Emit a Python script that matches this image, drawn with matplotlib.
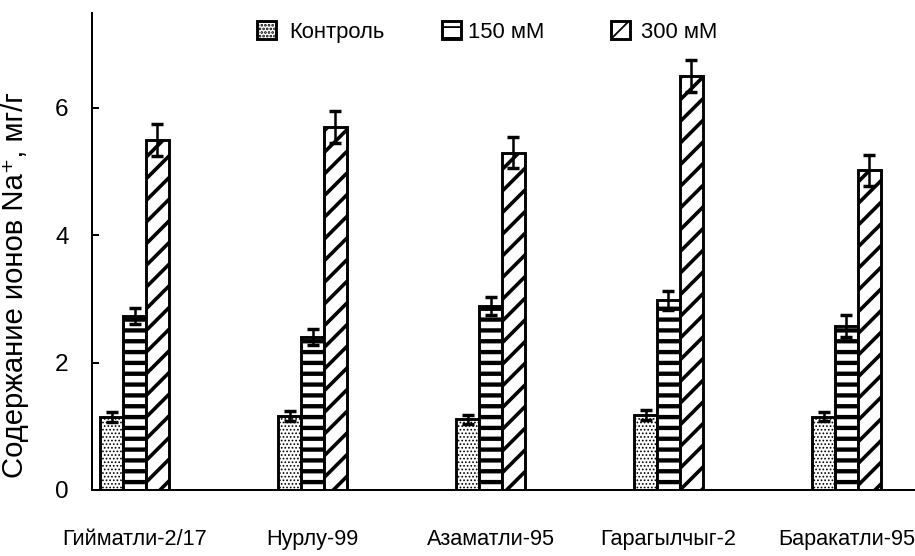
import matplotlib
matplotlib.use("Agg")
import matplotlib.pyplot as plt
import numpy as np
from matplotlib import font_manager
from matplotlib.legend import Legend

# data
varieties = ["Гийматли-2/17", "Нурлу-99", "Азаматли-95", "Гарагылчыг-2", "Баракатли-95"]
series_names = ["Контроль", "150 мМ", "300 мМ"]
control = [1.15, 1.16, 1.11, 1.18, 1.15]
mm150 = [2.73, 2.40, 2.89, 2.98, 2.58]
mm300 = [5.50, 5.70, 5.30, 6.50, 5.02]
control_err = [0.08, 0.08, 0.07, 0.08, 0.07]
mm150_err = [0.13, 0.13, 0.14, 0.15, 0.17]
mm300_err = [0.25, 0.25, 0.25, 0.25, 0.24]
y_ticks = [0, 2, 4, 6]

DPI = 130

# the reference uses a narrow Arial-like face; use one if present
installed = {f.name for f in font_manager.fontManager.ttflist}
if "Liberation Sans Narrow" in installed:
    narrow = ["Liberation Sans Narrow", "DejaVu Sans"]
    cat_size, leg_size = 13.5, 13.5
else:
    narrow = ["Liberation Sans", "DejaVu Sans"]
    cat_size, leg_size = 12.0, 12.2

fig = plt.figure(figsize=(915 / DPI, 556 / DPI), dpi=DPI)
ax = fig.add_axes([92 / 915, 66 / 556, 823 / 915, 477.5 / 556])

x = np.arange(len(varieties))
w = 0.129
styles = [
    # hatch, hatch linewidth
    ("......", 0.6),
    ("--", 2.4),
    ("//", 2.0),
]
values = [control, mm150, mm300]
errors = [control_err, mm150_err, mm300_err]

handles = []
for k, (vals, errs, (hatch, hlw)) in enumerate(zip(values, errors, styles)):
    with plt.rc_context({"hatch.linewidth": hlw, "hatch.color": "black"}):
        bars = ax.bar(
            x + (k - 1) * w,
            vals,
            width=w,
            color="white",
            edgecolor="black",
            linewidth=1.6,
            hatch=hatch,
            zorder=2,
            label=series_names[k],
        )
    for b in bars:
        if hasattr(b, "set_hatch_linewidth"):
            b.set_hatch_linewidth(hlw)
    ax.errorbar(
        x + (k - 1) * w,
        vals,
        yerr=errs,
        fmt="none",
        ecolor="black",
        elinewidth=1.4,
        capsize=3.4,
        capthick=1.9,
        zorder=3,
    )
    handles.append(bars)

ax.set_xlim(-0.239, 4.385)
ax.set_ylim(0, 7.5)
ax.set_yticks(y_ticks)
ax.set_yticklabels([str(t) for t in y_ticks], family=narrow, fontsize=13.5)
ax.set_xticks(x)
ax.set_xticklabels(varieties, family=narrow, fontsize=cat_size)
ax.tick_params(axis="x", length=0, pad=21.5)
ax.tick_params(axis="y", direction="in", length=3.9, width=1.1, pad=13)

for side in ["top", "right"]:
    ax.spines[side].set_visible(False)
for side in ["left", "bottom"]:
    ax.spines[side].set_linewidth(1.1)

ax.set_ylabel("Содержание ионов Na⁺, мг/г",
              family=["Liberation Sans", "DejaVu Sans"], fontsize=16.2)
ax.yaxis.set_label_coords(-0.077, 0.43)

# legend entries placed one by one, as in the reference
legend_x = [257, 442, 611]
pads = [0.6, 0.35, 0.5]
for k, (h, px) in enumerate(zip(handles, legend_x)):
    leg = Legend(
        ax,
        [h], [series_names[k]],
        loc="center left",
        bbox_to_anchor=((px - 92) / 823, 0.959),
        frameon=False,
        borderpad=0,
        borderaxespad=0,
        handlelength=0.85,
        handleheight=0.85,
        handletextpad=pads[k],
        prop={"family": narrow, "size": leg_size},
    )
    ax.add_artist(leg)

fig.savefig("out.png", dpi=DPI, facecolor="white")
